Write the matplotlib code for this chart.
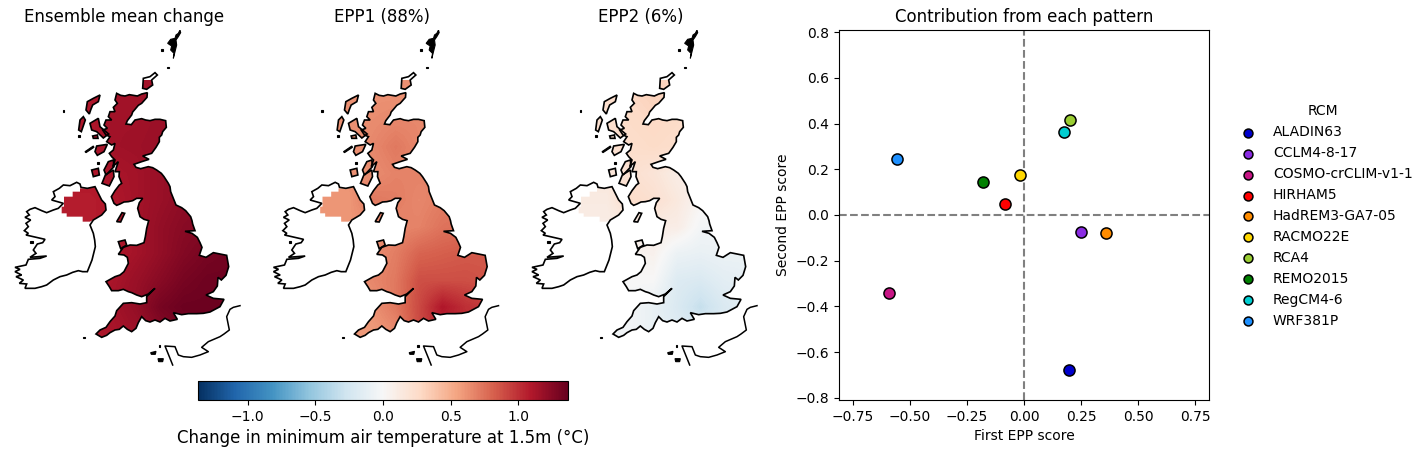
import numpy as np
import matplotlib
matplotlib.use("Agg")
from matplotlib import pyplot as plt
from matplotlib.patches import Polygon
from matplotlib.path import Path

W, H = 1427, 454

# scatter values
rcm_names = ["ALADIN63", "CCLM4-8-17", "COSMO-crCLIM-v1-1", "HIRHAM5", "HadREM3-GA7-05",
             "RACMO22E", "RCA4", "REMO2015", "RegCM4-6", "WRF381P"]
rcm_colors = ["mediumblue", "blueviolet", "mediumvioletred", "red", "darkorange",
              "gold", "yellowgreen", "green", "darkturquoise", "dodgerblue"]
epp1_score = [0.197, 0.25, -0.59, -0.083, 0.359, -0.018, 0.20, -0.18, 0.175, -0.556]
epp2_score = [-0.677, -0.075, -0.343, 0.048, -0.08, 0.176, 0.417, 0.145, 0.365, 0.246]

map_titles = ["Ensemble mean change", "EPP1 (88%)", "EPP2 (6%)"]

# coarse temperature fields (rows north to south)
ens_mean = [
    [1.10, 1.10, 1.15, 1.15, 1.15, 1.15, 1.15, 1.15],
    [1.10, 1.10, 1.15, 1.15, 1.17, 1.17, 1.17, 1.17],
    [1.10, 1.10, 1.15, 1.16, 1.18, 1.18, 1.18, 1.18],
    [1.10, 1.10, 1.12, 1.14, 1.18, 1.20, 1.20, 1.20],
    [1.07, 1.07, 1.10, 1.14, 1.18, 1.22, 1.24, 1.24],
    [1.07, 1.07, 1.10, 1.14, 1.20, 1.24, 1.26, 1.28],
    [1.07, 1.07, 1.10, 1.14, 1.20, 1.26, 1.30, 1.32],
    [1.10, 1.10, 1.12, 1.18, 1.24, 1.30, 1.33, 1.33],
    [1.10, 1.10, 1.14, 1.20, 1.30, 1.34, 1.34, 1.33],
    [1.10, 1.10, 1.12, 1.16, 1.24, 1.30, 1.32, 1.32],
]
epp1 = [
    [0.62, 0.62, 0.62, 0.62, 0.62, 0.62, 0.62, 0.62],
    [0.62, 0.62, 0.64, 0.66, 0.66, 0.66, 0.66, 0.66],
    [0.62, 0.62, 0.66, 0.72, 0.66, 0.62, 0.62, 0.62],
    [0.62, 0.62, 0.64, 0.68, 0.68, 0.66, 0.66, 0.66],
    [0.60, 0.60, 0.72, 0.70, 0.66, 0.70, 0.70, 0.70],
    [0.60, 0.60, 0.62, 0.66, 0.68, 0.74, 0.76, 0.76],
    [0.60, 0.60, 0.64, 0.70, 0.80, 0.82, 0.84, 0.84],
    [0.62, 0.62, 0.66, 0.72, 0.88, 0.88, 0.88, 0.86],
    [0.60, 0.60, 0.62, 0.72, 0.90, 1.10, 1.00, 0.95],
    [0.60, 0.60, 0.58, 0.64, 0.90, 1.02, 1.02, 1.00],
]
epp2 = [
    [0.24, 0.24, 0.28, 0.32, 0.28, 0.24, 0.24, 0.24],
    [0.22, 0.22, 0.26, 0.28, 0.26, 0.22, 0.22, 0.22],
    [0.22, 0.22, 0.24, 0.26, 0.24, 0.22, 0.22, 0.22],
    [0.15, 0.15, 0.22, 0.18, 0.10, 0.10, 0.10, 0.10],
    [0.12, 0.12, 0.25, 0.22, 0.14, 0.03, 0.00, 0.00],
    [0.10, 0.10, 0.10, 0.10, 0.10, -0.03, -0.04, -0.04],
    [0.05, 0.05, 0.04, 0.06, -0.08, -0.10, -0.08, -0.08],
    [0.02, 0.02, 0.00, 0.00, -0.18, -0.20, -0.14, -0.12],
    [-0.03, -0.03, -0.03, -0.10, -0.20, -0.32, -0.20, -0.14],
    [-0.03, -0.03, -0.04, -0.10, -0.16, -0.20, -0.16, -0.14],
]
fields = [ens_mean, epp1, epp2]

# coastlines, traced in map units
great_britain = [(350,220),(362,226),(375,228),(388,224),(400,226),(412,228),(425,222),(442,218),(441,232),(425,250),(415,256),
    (405,268),(398,276),(395,285),(382,302),(378,312),(394,314),(405,300),(425,296),(437,300),(450,302),(465,298),(480,298),
    (497,302),(499,322),(488,335),(485,345),(478,352),(478,365),(468,382),(455,400),(428,408),(447,418),(425,425),(402,433),(408,442),
    (422,446),(445,440),(458,443),(470,450),(484,460),(492,470),(505,490),(510,500),(512,515),(518,530),(528,555),(545,563),(557,572),
    (572,590),(576,602),(578,612),(585,632),(555,634),(576,640),(592,652),(600,668),(606,682),(598,706),(618,712),(640,698),(660,702),
    (680,706),(686,740),(678,766),(664,780),(654,772),(652,798),(640,815),(618,825),(640,835),(672,838),(660,860),(645,868),(630,876),
    (610,880),(590,881),(565,881),(545,884),(520,878),(532,898),(510,903),(495,895),(480,906),(465,900),(450,906),(437,902),
    (425,890),(415,908),(408,925),(395,935),(382,928),(370,918),(358,928),(345,930),(330,938),(320,946),(305,952),(288,942),
    (300,930),(318,922),(330,905),(345,888),(350,872),(370,850),(395,848),(420,852),(440,848),(440,830),(465,805),(445,822),
    (425,830),(410,825),(395,818),(385,815),(370,808),(355,812),(335,812),(328,800),(318,785),(345,770),(360,765),(372,755),(385,730),
    (382,712),(372,705),(355,703),(370,682),(390,675),(410,676),(432,668),(436,650),(440,625),(446,602),(432,598),(420,590),
    (413,565),(418,548),(428,535),(410,535),(398,542),(385,545),(372,546),(360,552),(350,556),(342,550),(334,530),(345,512),(358,495),
    (365,490),(357,470),(358,455),(345,455),(355,425),(338,440),(345,420),(335,410),(328,400),(340,390),(345,370),(335,375),(320,365),(330,350),(318,345),
    (308,330),(322,325),(312,315),(318,300),(335,300),(325,290),(330,275),(345,275),(340,262),(352,250),(345,240)]
ireland = [(230,487),(240,492),(243,502),(262,505),(285,500),(295,520),(305,540),(316,552),(318,570),(305,585),(280,600),(270,615),(280,640),
    (284,660),(286,680),(276,720),(262,755),(248,755),(235,752),(218,757),(200,765),(180,770),(160,780),(140,795),(125,800),(105,805),
    (75,805),(80,792),(58,790),(70,780),(48,770),(65,765),(45,755),(60,748),(45,742),(78,735),(85,718),(120,715),(140,708),(90,712),
    (108,700),(100,690),(112,672),(128,668),(135,658),(100,650),(78,645),(85,640),(73,632),(85,620),(78,610),(92,600),(75,592),(88,585),
    (80,575),(90,568),(105,563),(125,572),(140,578),(160,570),(175,565),(190,550),(155,540),(165,530),(160,515),(178,505),(190,495),(210,497)]
northern_ireland = [(218,515),(240,515),(240,505),(262,505),(285,500),(295,520),(305,540),(316,552),(318,570),(305,585),(280,600),(270,605),
    (248,605),(248,590),(200,590),(200,580),(185,580),(185,560),(192,560),(192,530),(218,530)]
ni_gap = [(265,548),(277,548),(277,568),(265,568)]
france = [(720,857),(700,862),(690,868),(680,890),(688,930),(672,942),(660,950),(625,965),(605,982),(625,995),(600,1005),(575,1012),
    (550,1010),(535,1005),(525,980),(495,978),(510,1015),(518,1035)]
filled_islands = [
    [(300,225),(295,245),(278,255),(272,270),(268,282),(258,270),(262,245),(280,235)],
    [(250,290),(256,300),(244,335),(236,330),(240,300)],
    [(270,310),(295,295),(300,320),(326,342),(310,354),(290,335),(275,330)],
    [(278,348),(292,345),(294,355),(280,355)],
    [(290,378),(322,373),(312,395),(292,406),(285,395)],
    [(275,450),(295,445),(298,465),(280,470)],
    [(325,425),(340,420),(342,440),(318,465),(312,450)],
    [(306,490),(316,465),(340,450),(342,470),(328,498)],
    [(355,665),(375,660),(380,675),(362,686)],
    [(430,175),(450,170),(465,158),(472,165),(455,180),(458,195),(440,208),(428,205)],
    [(350,605),(366,578),(374,580),(362,606)],
]
black_islands = [
    [(540,30),(535,40),(528,45),(525,55),(512,58),(503,70),(515,78),(512,90),(522,100),(520,115),(525,95),(530,75),(528,60),(535,50),(542,38)],
    [(255,395),(280,378),(282,382),(258,398)],
    [(235,345),(240,345),(240,351),(235,351)],
    [(502,140),(508,140),(508,145),(502,145)],
    [(483,88),(489,88),(489,93),(483,93)],
    [(188,271),(192,271),(192,275),(188,275)],
    [(250,950),(255,950),(255,955),(250,955)],
    [(290,425),(296,425),(296,432),(290,432)],
    [(90,664),(98,664),(98,668),(90,668)],
    [(452,998),(468,994),(466,1003),(454,1003)],
    [(474,1016),(490,1016),(488,1025),(476,1025)],
    [(476,975),(481,975),(481,980),(476,980)],
]

fig = plt.figure(figsize=(W / 100, H / 100), dpi=100)

def px_axes(x0, y0, x1, y1):
    return fig.add_axes([x0 / W, 1 - y1 / H, (x1 - x0) / W, (y1 - y0) / H])

vmax = 1.366
shift = [0, 258.5, 517]
for i in range(3):
    ax = px_axes(shift[i], 30, shift[i] + 248, 368)
    im = ax.imshow(fields[i], cmap="RdBu_r", vmin=-vmax, vmax=vmax, interpolation="bilinear",
                   extent=[165, 725, 980, 180], aspect="auto", zorder=1)
    # field only over GB + NI + the islands
    verts = []
    codes = []
    for poly in [great_britain, northern_ireland, ni_gap] + filled_islands:
        verts += list(poly) + [poly[0]]
        codes += [Path.MOVETO] + [Path.LINETO] * (len(poly) - 1) + [Path.CLOSEPOLY]
    im.set_clip_path(Path(verts, codes), transform=ax.transData)
    for poly in [great_britain, ireland] + filled_islands:
        ax.add_patch(Polygon(poly, closed=True, fill=False, ec="black", lw=1.2, zorder=2))
    for poly in black_islands:
        ax.add_patch(Polygon(poly, closed=True, fc="black", ec="black", lw=0.8, zorder=2))
    fx, fy = zip(*france)
    ax.plot(fx, fy, color="black", lw=1.1, zorder=2)
    ax.set_xlim(0, 744)
    ax.set_ylim(1044, 30)
    ax.axis("off")
    ax.set_title(map_titles[i], fontsize=12, pad=5.5)

cax = px_axes(198, 381, 568, 400)
cb = fig.colorbar(im, cax=cax, orientation="horizontal")
cb.set_ticks([-1.0, -0.5, 0.0, 0.5, 1.0])
cb.set_label("Change in minimum air temperature at 1.5m (°C)", fontsize=12)

ax = px_axes(839, 30, 1209, 400)
for name, col, x, y in zip(rcm_names, rcm_colors, epp1_score, epp2_score):
    ax.scatter(x, y, s=64, c=col, edgecolors="black", linewidths=1.1, label=name, zorder=3)
ax.axhline(0, color="gray", ls="--", lw=1.5)
ax.axvline(0, color="gray", ls="--", lw=1.5)
ax.set_xlim(-0.81, 0.81)
ax.set_ylim(-0.81, 0.81)
ax.set_xticks([-0.75, -0.5, -0.25, 0, 0.25, 0.5, 0.75])
ax.set_yticks([-0.8, -0.6, -0.4, -0.2, 0, 0.2, 0.4, 0.6, 0.8])
ax.set_xlabel("First EPP score")
ax.set_ylabel("Second EPP score")
ax.set_title("Contribution from each pattern", fontsize=12, pad=5.5)
ax.legend(title="RCM", frameon=False, loc="center left", bbox_to_anchor=(1.0335, 0.497), markerscale=0.8)

fig.savefig("out.png", dpi=100)
